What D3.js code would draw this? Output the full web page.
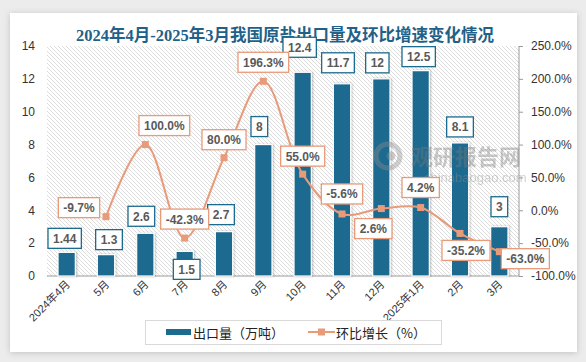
<!DOCTYPE html>
<html>
<head>
<meta charset="utf-8">
<script src="https://cdn.jsdelivr.net/npm/d3@7"></script>
<style>
    body { margin: 0; background: #ececec; }
    svg { display: block; }
</style>
</head>
<body>
<svg id="chart" width="586" height="362"></svg>
<script>
// data
const months = ['2024年4月', '5月', '6月', '7月', '8月', '9月', '10月', '11月', '12月', '2025年1月', '2月', '3月'];
const exportVolume = [1.44, 1.3, 2.6, 1.5, 2.7, 8, 12.4, 11.7, 12, 12.5, 8.1, 3]; // 万吨
const momGrowth = [null, -9.7, 100.0, -42.3, 80.0, 196.3, 55.0, -5.6, 2.6, 4.2, -35.2, -63.0]; // %
const leftTicks = [0, 2, 4, 6, 8, 10, 12, 14];
const rightTicks = [-100, -50, 0, 50, 100, 150, 200, 250];

// hand placed label offsets (like the moved labels in the original)
const barLabelShift = [[-2, -14], [3, -15], [-4, -17], [2, 18], [-3, -17], [-4, -18], [-3, -25], [-4, -21], [-4, -16], [-2, -14], [0, -16], [0, -20]];
const lineLabelShift = [null, [-27, -9], [19, -19], [0, -19], [0, -18], [0, -19], [0, -18], [0, -20], [-8, 20], [0, -20], [6, 17], [26, 7]];

const barColor = '#1b6a8f';
const lineColor = '#e99a79';

let svg = d3.select('#chart');
let defs = svg.append('defs');

let shadow = defs.append('filter').attr('id', 'cardShadow').attr('x', '-5%').attr('y', '-5%').attr('width', '110%').attr('height', '110%');
shadow.append('feDropShadow').attr('dx', 0).attr('dy', 1).attr('stdDeviation', 3).attr('flood-color', '#000').attr('flood-opacity', 0.18);

let barShadow = defs.append('filter').attr('id', 'barShadow').attr('x', '-30%').attr('y', '-10%').attr('width', '160%').attr('height', '120%');
barShadow.append('feDropShadow').attr('dx', 1).attr('dy', 0).attr('stdDeviation', 1.2).attr('flood-color', '#000').attr('flood-opacity', 0.25);

// diagonal hatch for the plot area
let hatch = defs.append('pattern').attr('id', 'hatch').attr('patternUnits', 'userSpaceOnUse')
    .attr('width', 4).attr('height', 4);
hatch.append('rect').attr('width', 4).attr('height', 4).attr('fill', '#fff');
hatch.append('path').attr('d', 'M-1,-1 L5,5 M-1,3 L1,5 M3,-1 L5,1')
    .attr('stroke', '#d4d4d4').attr('stroke-width', 0.8);

// white card
svg.append('rect').attr('x', 10).attr('y', 13).attr('width', 567).attr('height', 339)
    .attr('fill', '#fff').attr('filter', 'url(#cardShadow)');

// title
svg.append('text').attr('x', 285).attr('y', 41).attr('text-anchor', 'middle')
    .attr('font-family', '"Liberation Serif", "Noto Sans CJK SC", serif').attr('font-weight', 'bold')
    .attr('font-size', 16.5).attr('fill', '#1f6189')
    .text('2024年4月-2025年3月我国原盐出口量及环比增速变化情况');

const plot = { left: 47, right: 519, top: 46, bottom: 276 };

let x = d3.scaleBand().domain(months).range([plot.left, plot.right])
    .paddingInner(0.56).paddingOuter(0.28);
let yLeft = d3.scaleLinear().domain([0, 14]).range([plot.bottom, plot.top]);
let yRight = d3.scaleLinear().domain([-100, 250]).range([plot.bottom, plot.top]);

// plot background
svg.append('rect').attr('x', plot.left).attr('y', plot.top)
    .attr('width', plot.right - plot.left).attr('height', plot.bottom - plot.top)
    .attr('fill', 'url(#hatch)');

// left axis
let leftAxis = svg.append('g').attr('transform', `translate(${plot.left},0)`)
    .call(d3.axisLeft(yLeft).tickValues(leftTicks).tickSize(0).tickPadding(12));
leftAxis.select('.domain').remove();
leftAxis.selectAll('text').attr('font-family', '"Liberation Sans", Arial, sans-serif')
    .attr('font-size', 12).attr('fill', '#333');

// right axis
let rightAxis = svg.append('g').attr('transform', `translate(${plot.right},0)`)
    .call(d3.axisRight(yRight).tickValues(rightTicks).tickSize(4).tickPadding(8).tickFormat(d => d.toFixed(1) + '%'));
rightAxis.select('.domain').attr('stroke', '#9a9a9a').attr('d', `M0,${plot.top}V${plot.bottom}`);
rightAxis.selectAll('line').attr('stroke', '#9a9a9a');
rightAxis.selectAll('text').attr('font-family', '"Liberation Sans", Arial, sans-serif')
    .attr('font-size', 12).attr('fill', '#333');

// bottom axis line
svg.append('line').attr('x1', plot.left).attr('x2', plot.right)
    .attr('y1', plot.bottom).attr('y2', plot.bottom).attr('stroke', '#9a9a9a');

// month labels, rotated
svg.append('g').selectAll('text')
    .data(months)
    .enter().append('text')
    .attr('transform', d => `translate(${x(d) + x.bandwidth() / 2 + 4},${plot.bottom + 9}) rotate(-45)`)
    .attr('text-anchor', 'end')
    .attr('font-family', '"Liberation Sans", "Noto Sans CJK SC", sans-serif')
    .attr('font-size', 11).attr('fill', '#333')
    .text(d => d);

// bars
svg.append('g').selectAll('rect')
    .data(exportVolume)
    .enter().append('rect')
    .attr('x', (d, i) => x(months[i]))
    .attr('y', d => yLeft(d))
    .attr('width', x.bandwidth())
    .attr('height', d => plot.bottom - yLeft(d))
    .attr('fill', barColor)
    .attr('stroke', '#fff').attr('stroke-width', 1.2)
    .attr('filter', 'url(#barShadow)');

// growth line
let linePoints = momGrowth.map((d, i) => ({ m: months[i], v: d, i: i })).filter(d => d.v !== null);
let line = d3.line()
    .x(d => x(d.m) + x.bandwidth() / 2)
    .y(d => yRight(d.v))
    .curve(d3.curveCatmullRom.alpha(0.5));

svg.append('path').datum(linePoints)
    .attr('d', line)
    .attr('fill', 'none').attr('stroke', lineColor).attr('stroke-width', 2);

svg.append('g').selectAll('rect')
    .data(linePoints)
    .enter().append('rect')
    .attr('x', d => x(d.m) + x.bandwidth() / 2 - 3.5)
    .attr('y', d => yRight(d.v) - 3.5)
    .attr('width', 7).attr('height', 7)
    .attr('fill', lineColor);

// watermark, sits over the bars
let mark = svg.append('g').attr('opacity', 0.4);
mark.append('circle').attr('cx', 388).attr('cy', 156).attr('r', 12).attr('fill', 'none').attr('stroke', '#8c8c8c').attr('stroke-width', 5);
mark.append('circle').attr('cx', 391).attr('cy', 156).attr('r', 4.5).attr('fill', '#8c8c8c');
mark.append('text').attr('x', 411).attr('y', 165).attr('font-family', '"Noto Sans CJK SC", sans-serif')
    .attr('font-weight', 'bold').attr('font-size', 22).attr('fill', '#7a7a7a').text('观研报告网');
mark.append('text').attr('x', 424).attr('y', 182).attr('font-family', 'Arial, "Liberation Sans", sans-serif')
    .attr('font-size', 13).attr('fill', '#8c8c8c').text('chinabaogao.com');

// boxed data label helper
function addLabel(g, cx, cy, txt, border) {
    let t = g.append('text').attr('x', cx).attr('y', cy + 4.5)
        .attr('text-anchor', 'middle')
        .attr('font-family', '"Liberation Sans", Arial, sans-serif')
        .attr('font-weight', 'bold').attr('font-size', 12).attr('fill', '#595959')
        .text(txt);
    let w = t.node().getComputedTextLength() + 10;
    g.insert('rect', function () { return t.node(); })
        .attr('x', cx - w / 2).attr('y', cy - 10)
        .attr('width', w).attr('height', 20)
        .attr('fill', '#fff').attr('stroke', border).attr('stroke-width', 1.3);
}

let barLabels = svg.append('g');
exportVolume.forEach((d, i) => {
    let cx = x(months[i]) + x.bandwidth() / 2 + barLabelShift[i][0];
    let cy = yLeft(d) + barLabelShift[i][1];
    addLabel(barLabels, cx, cy, String(d), barColor);
});

let lineLabels = svg.append('g');
linePoints.forEach(d => {
    let cx = x(d.m) + x.bandwidth() / 2 + lineLabelShift[d.i][0];
    let cy = yRight(d.v) + lineLabelShift[d.i][1];
    addLabel(lineLabels, cx, cy, d.v.toFixed(1) + '%', lineColor);
});

// legend
let legend = svg.append('g');
legend.append('rect').attr('x', 145.5).attr('y', 320.5).attr('width', 296).attr('height', 24)
    .attr('fill', '#fff').attr('stroke', '#d9d9d9');
legend.append('rect').attr('x', 166).attr('y', 329).attr('width', 25).attr('height', 6).attr('fill', barColor);
legend.append('text').attr('x', 193).attr('y', 337.5)
    .attr('font-family', '"Noto Sans CJK SC", sans-serif').attr('font-size', 13).attr('fill', '#222')
    .text('出口量（万吨）');
legend.append('line').attr('x1', 308).attr('x2', 335).attr('y1', 332).attr('y2', 332)
    .attr('stroke', lineColor).attr('stroke-width', 2);
legend.append('rect').attr('x', 318).attr('y', 328.5).attr('width', 7).attr('height', 7).attr('fill', lineColor);
legend.append('text').attr('x', 336).attr('y', 337.5)
    .attr('font-family', '"Noto Sans CJK SC", sans-serif').attr('font-size', 13).attr('fill', '#222')
    .text('环比增长（%）');
</script>
</body>
</html>
